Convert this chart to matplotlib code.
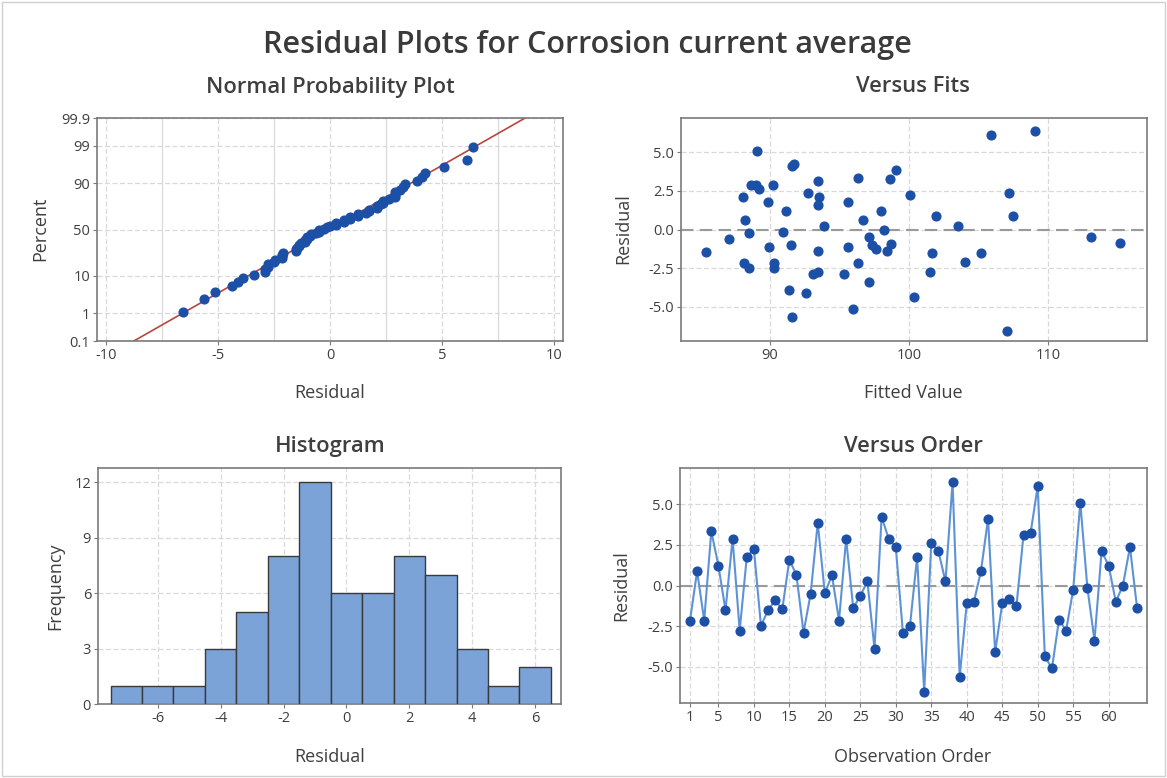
import numpy as np
import matplotlib
matplotlib.use("Agg")
import matplotlib.pyplot as plt
from matplotlib.patches import Rectangle
from statistics import NormalDist

plt.rcParams["font.family"] = ["Open Sans", "DejaVu Sans"]
plt.rcParams["axes.unicode_minus"] = False

# residuals in observation order
residuals = [
    -2.16, 0.88, -2.16, 3.35, 1.23, -1.52, 2.88, -2.78, 1.75, 2.26,
    -2.49, -1.52, -0.91, -1.48, 1.60, 0.64, -2.90, -0.51, 3.87, -0.49,
    0.64, -2.16, 2.88, -1.38, -0.64, 0.25, -3.89, 4.24, 2.88, 2.37,
    -2.90, -2.47, 1.75, -6.55, 2.63, 2.12, 0.25, 6.38, -5.64, -1.11,
    -1.01, 0.88, 4.12, -4.12, -1.11, -0.86, -1.28, 3.13, 3.25, 6.13,
    -4.36, -5.12, -2.12, -2.78, -0.25, 5.10, -0.14, -3.40, 2.12, 1.23,
    -1.01, 0.00, 2.37, -1.38,
]

fitted = [
    88.16, 101.96, 90.29, 96.30, 98.01, 101.63, 89.00, 93.47, 89.83, 100.05,
    88.49, 105.14, 98.73, 85.41, 93.42, 88.18, 93.11, 113.11, 99.04, 97.13,
    96.70, 96.34, 90.24, 98.44, 87.06, 93.90, 91.39, 91.75, 88.60, 92.70,
    95.33, 90.29, 95.62, 107.01, 89.20, 88.09, 103.54, 109.04, 91.56, 95.62,
    91.51, 107.46, 91.56, 92.58, 89.95, 115.19, 97.60, 93.42, 98.61, 105.86,
    100.36, 95.93, 104.00, 101.51, 88.52, 89.09, 90.96, 97.08, 93.52, 91.12,
    97.30, 98.16, 107.18, 93.42,
]

hist_edges = np.arange(-7.5, 7.0, 1.0)
prob_ticks = [0.1, 1, 10, 50, 90, 99, 99.9]
order_ticks = [1, 5, 10, 15, 20, 25, 30, 35, 40, 45, 50, 55, 60]

W, H = 1167, 778
TXT = "#3f3f3f"
DOT = "#1c4fa6"
GRID = "#d9d9d9"
nd = NormalDist()


def box(x0, y0, x1, y1):
    return [x0 / W, 1 - y1 / H, (x1 - x0) / W, (y1 - y0) / H]


def style(ax):
    for s in ax.spines.values():
        s.set_color("#7a7a7a")
        s.set_linewidth(1.2)
    ax.tick_params(direction="out", length=3, color="#7a7a7a",
                   labelsize=10.5, labelcolor=TXT, pad=2)
    ax.grid(True, color=GRID, lw=0.9, ls=(0, (4, 2)))
    ax.set_axisbelow(True)


fig = plt.figure(figsize=(W / 100, H / 100), dpi=100)
fig.patches.append(Rectangle((0.002, 0.002), 0.996, 0.995, transform=fig.transFigure,
                             fill=False, ec="#d0d0d0", lw=1))

fig.text(0.503, 1 - 45 / H, "Residual Plots for Corrosion current average",
         ha="center", va="center", fontsize=22, fontweight="semibold", color="#3a3a3a")

res = np.array(residuals)
fit = np.array(fitted)
n = len(res)

# Normal probability plot
ax1 = fig.add_axes(box(97, 118, 563, 341))
style(ax1)
xs = np.sort(res)
pp = (np.arange(1, n + 1) - 0.3) / (n + 0.4)
zs = np.array([nd.inv_cdf(p) for p in pp])
mu, sd = res.mean(), res.std(ddof=1)
zlo, zhi = nd.inv_cdf(0.001), nd.inv_cdf(0.999)
ax1.plot([mu + sd * zlo, mu + sd * zhi], [zlo, zhi], color="#b8463d", lw=1.2, zorder=2)
ax1.plot(xs, zs, "o", color=DOT, ms=6.3, zorder=3)
ax1.set_xlim(-10.4, 10.4)
ax1.set_ylim(zlo, zhi)
ax1.set_xticks([-10, -5, 0, 5, 10])
ax1.set_xticks([-7.5, -2.5, 2.5, 7.5], minor=True)
ax1.set_yticks([nd.inv_cdf(p / 100) for p in prob_ticks])
ax1.set_yticklabels([f"{p:g}" for p in prob_ticks])
ax1.tick_params(which="minor", length=0)
ax1.grid(True, which="minor", color=GRID, lw=0.9)

# Versus fits
ax2 = fig.add_axes(box(681, 118, 1147, 341))
style(ax2)
ax2.axhline(0, color="#9a9a9a", lw=1.5, ls=(0, (6, 3)), zorder=2)
ax2.plot(fit, res, "o", color=DOT, ms=6.3, zorder=3)
ax2.set_xlim(83.6, 117.1)
ax2.set_ylim(-7.22, 7.22)
ax2.set_xticks([90, 100, 110])
ax2.set_yticks([-5, -2.5, 0, 2.5, 5])
ax2.set_yticklabels(["-5.0", "-2.5", "0.0", "2.5", "5.0"])

# Histogram
ax3 = fig.add_axes(box(98, 468, 561, 704))
style(ax3)
ax3.hist(res, bins=hist_edges, color="#7ba3d8", edgecolor="#3a3a3a", lw=1.0, zorder=3)
ax3.set_xlim(-7.9, 6.82)
ax3.set_ylim(0, 12.78)
ax3.set_xticks([-6, -4, -2, 0, 2, 4, 6])
ax3.set_yticks([0, 3, 6, 9, 12])

# Versus order
ax4 = fig.add_axes(box(680, 468, 1147, 703))
style(ax4)
obs = np.arange(1, n + 1)
ax4.axhline(0, color="#9a9a9a", lw=1.5, ls=(0, (6, 3)), zorder=2)
ax4.plot(obs, res, "-", color="#5d93d6", lw=1.5, zorder=3)
ax4.plot(obs, res, "o", color=DOT, ms=6.3, zorder=4)
ax4.set_xlim(-0.41, 65.4)
ax4.set_ylim(-7.25, 7.25)
ax4.set_xticks(order_ticks)
ax4.set_yticks([-5, -2.5, 0, 2.5, 5])
ax4.set_yticklabels(["-5.0", "-2.5", "0.0", "2.5", "5.0"])

# panel titles and axis labels
sub = dict(ha="center", va="center", fontsize=15.8, fontweight="semibold", color=TXT)
fig.text(330 / W, 1 - 87 / H, "Normal Probability Plot", **sub)
fig.text(913 / W, 1 - 87 / H, "Versus Fits", **sub)
fig.text(330 / W, 1 - 447 / H, "Histogram", **sub)
fig.text(913 / W, 1 - 447 / H, "Versus Order", **sub)

lab = dict(ha="center", va="center", fontsize=13, color=TXT)
fig.text(330 / W, 1 - 393 / H, "Residual", **lab)
fig.text(913 / W, 1 - 393 / H, "Fitted Value", **lab)
fig.text(330 / W, 1 - 757 / H, "Residual", **lab)
fig.text(913 / W, 1 - 757 / H, "Observation Order", **lab)
fig.text(40 / W, 1 - 229 / H, "Percent", rotation=90, **lab)
fig.text(623 / W, 1 - 229 / H, "Residual", rotation=90, **lab)
fig.text(55 / W, 1 - 586 / H, "Frequency", rotation=90, **lab)
fig.text(621 / W, 1 - 586 / H, "Residual", rotation=90, **lab)

fig.savefig("out.png", dpi=100)
